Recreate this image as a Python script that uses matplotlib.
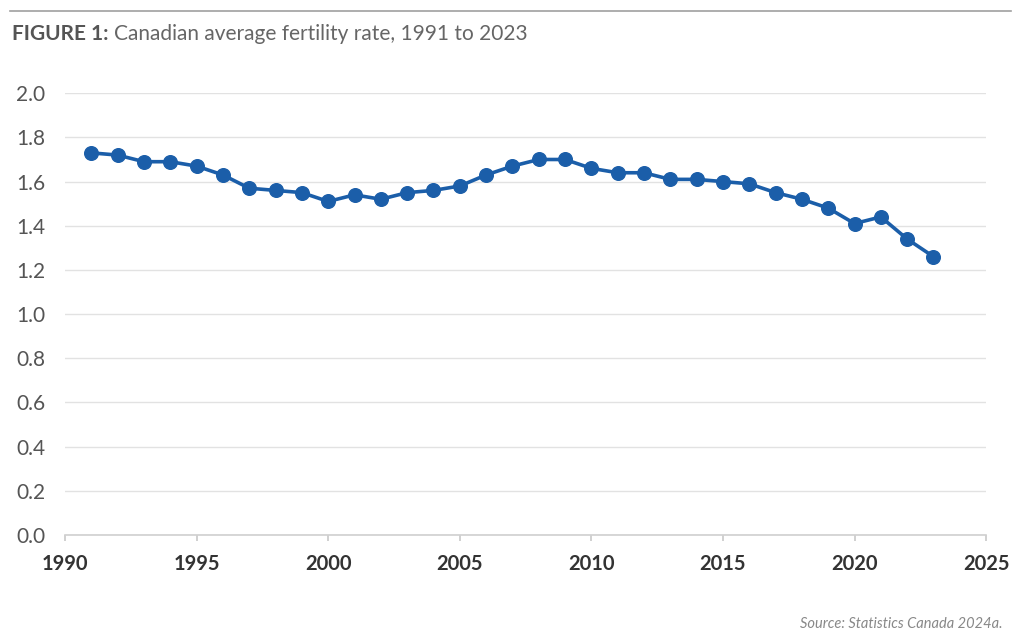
import matplotlib.pyplot as plt
from matplotlib.ticker import MultipleLocator

plt.rcParams['font.family'] = ['Lato', 'DejaVu Sans']

# Data
years = list(range(1991, 2024))
fertility = [1.73, 1.72, 1.69, 1.69, 1.67, 1.63, 1.57, 1.56, 1.55, 1.51,
             1.54, 1.52, 1.55, 1.56, 1.58, 1.63, 1.67, 1.70, 1.70, 1.66,
             1.64, 1.64, 1.61, 1.61, 1.60, 1.59, 1.55, 1.52, 1.48, 1.41,
             1.44, 1.34, 1.26]

x_ticks = [1990, 1995, 2000, 2005, 2010, 2015, 2020, 2025]

fig = plt.figure(figsize=(10.24, 6.43), dpi=100)
ax = fig.add_axes([0.0635, 0.168, 0.8995, 0.687])

ax.plot(years, fertility, color='#1b5ea9', linewidth=2.6, marker='o',
        markersize=9.8, zorder=3)

ax.set_xlim(1990, 2025)
ax.set_ylim(0, 2.0)
ax.set_xticks(x_ticks)
ax.yaxis.set_major_locator(MultipleLocator(0.2))
ax.yaxis.set_major_formatter(plt.FuncFormatter(lambda v, p: f'{v:.1f}'))

ax.grid(axis='y', color='#e2e2e2', linewidth=1)
ax.set_axisbelow(True)
for s in ['left', 'right', 'top']:
    ax.spines[s].set_visible(False)
ax.spines['bottom'].set_color('#d0d0d0')
ax.spines['bottom'].set_linewidth(1.2)

ax.tick_params(axis='y', length=0, pad=14, labelsize=15, labelcolor='#555555')
ax.tick_params(axis='x', length=4, width=1.2, color='#c8c8c8', pad=10,
               labelsize=14.5, labelcolor='#333333')
for lbl in ax.get_xticklabels():
    lbl.set_fontweight('bold')

# Header rule and title
fig.add_artist(plt.Line2D([0.01, 0.987], [0.983, 0.983], color='#a0a0a0',
                          linewidth=1.2, transform=fig.transFigure))
t1 = fig.text(0.012, 0.947, 'FIGURE 1:', fontsize=15, fontweight='bold',
              color='#555555', va='center')
fig.canvas.draw()
bb = t1.get_window_extent()
x2 = (bb.x1 + 5) / fig.bbox.width
fig.text(x2, 0.947, 'Canadian average fertility rate, 1991 to 2023',
         fontsize=15, color='#666666', va='center')

fig.text(0.979, 0.029, 'Source: Statistics Canada 2024a.', fontsize=10.5,
         style='italic', color='#888888', ha='right', va='center')

fig.savefig('out.png', dpi=100)
